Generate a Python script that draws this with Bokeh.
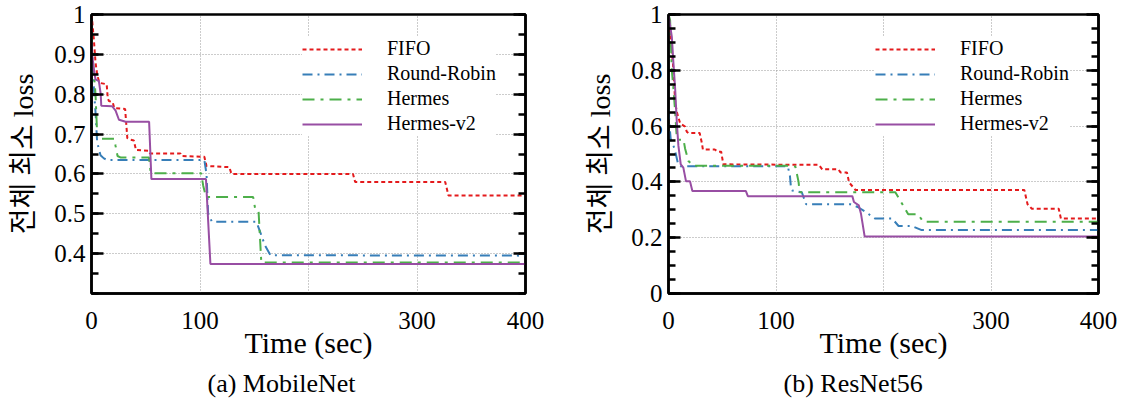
from bokeh.plotting import figure
from bokeh.models import FixedTicker, LinearAxis, Legend, LegendItem, Title, Range1d
from bokeh.layouts import row
from bokeh.embed import file_html
from bokeh.resources import INLINE

# ---------------- data ----------------
series_names = ["FIFO", "Round-Robin", "Hermes", "Hermes-v2"]

x_ticks = [0, 100, 200, 300, 400]
x_tick_labels = ["0", "100", "", "300", "400"]

a_y_ticks = [0.4, 0.5, 0.6, 0.7, 0.8, 0.9, 1.0]
a_y_tick_labels = ["0.4", "0.5", "0.6", "0.7", "0.8", "0.9", "1"]
a_y_minor = [0.3, 0.35, 0.4, 0.45, 0.5, 0.55, 0.6, 0.65, 0.7, 0.75, 0.8, 0.85, 0.9, 0.95, 1.0]

b_y_ticks = [0.0, 0.2, 0.4, 0.6, 0.8, 1.0]
b_y_tick_labels = ["0", "0.2", "0.4", "0.6", "0.8", "1"]
b_y_minor = [0.0, 0.05, 0.1, 0.15, 0.2, 0.25, 0.3, 0.35, 0.4, 0.45, 0.5, 0.55, 0.6, 0.65,
             0.7, 0.75, 0.8, 0.85, 0.9, 0.95, 1.0]

# (a) MobileNet
a_fifo_t = [0, 0.6, 2.2, 3.7, 5.2, 6.8, 8.3, 14, 15, 16, 19.5, 21, 31, 33, 36, 39, 41, 53, 54, 82, 83,
            104, 106, 127, 129, 241, 243, 326, 329, 400]
a_fifo_v = [1.0, 0.985, 0.936, 0.88, 0.85, 0.833, 0.828, 0.825, 0.79, 0.783, 0.78, 0.765, 0.763, 0.69,
            0.686, 0.684, 0.66, 0.658, 0.651, 0.651, 0.645, 0.643, 0.62, 0.617, 0.60, 0.60, 0.58,
            0.58, 0.546, 0.546]
a_rr_t = [0, 0.6, 2.5, 3.7, 5.2, 8.3, 11.4, 14.5, 104, 106, 107.5, 111, 152, 156, 160, 165, 400]
a_rr_v = [0.93, 0.90, 0.80, 0.755, 0.68, 0.647, 0.639, 0.635, 0.635, 0.60, 0.50, 0.48, 0.48, 0.45,
          0.42, 0.396, 0.395]
a_her_t = [0, 0.6, 3.7, 5.2, 6.8, 21, 22.2, 24, 27, 53, 54.6, 101, 103, 105.6, 149, 151, 154, 156.5, 400]
a_her_v = [0.95, 0.91, 0.80, 0.70, 0.688, 0.688, 0.67, 0.645, 0.641, 0.641, 0.602, 0.602, 0.57,
           0.542, 0.542, 0.51, 0.505, 0.378, 0.378]
a_v2_t = [0, 0.6, 2.2, 3.7, 6.8, 8.5, 9.0, 19, 22.2, 25.3, 31.5, 53.1, 55.2, 105.5, 109.6, 400]
a_v2_v = [0.93, 0.90, 0.862, 0.837, 0.833, 0.80, 0.771, 0.77, 0.759, 0.736, 0.731, 0.731, 0.587,
          0.587, 0.374, 0.374]

# (b) ResNet56
b_fifo_t = [0, 0.9, 3.1, 4.6, 6.2, 7.7, 10.8, 15.4, 17, 18.5, 29, 31, 32, 43, 46, 49, 51, 140, 143,
            158, 160, 166, 168, 174, 331, 334, 338, 363, 365, 400]
b_fifo_v = [1.0, 0.968, 0.874, 0.80, 0.686, 0.651, 0.61, 0.598, 0.58, 0.575, 0.575, 0.54, 0.516,
            0.516, 0.508, 0.508, 0.463, 0.461, 0.445, 0.445, 0.434, 0.434, 0.398, 0.371, 0.371,
            0.32, 0.304, 0.304, 0.269, 0.269]
b_rr_t = [0, 1, 2, 4.6, 6.2, 9, 11, 111, 113, 114, 115, 124, 128, 169, 176, 183, 192, 208, 214,
          226, 235, 400]
b_rr_v = [0.66, 0.60, 0.555, 0.53, 0.51, 0.463, 0.456, 0.456, 0.42, 0.375, 0.369, 0.363, 0.32,
          0.32, 0.31, 0.293, 0.269, 0.269, 0.242, 0.242, 0.228, 0.228]
b_her_t = [0, 1.5, 3.1, 4.6, 6.2, 7.7, 9, 14, 15.4, 18.5, 23, 115, 118, 121, 122, 211, 216, 220,
           223, 232, 237, 400]
b_her_v = [1.0, 0.98, 0.80, 0.733, 0.651, 0.557, 0.551, 0.551, 0.52, 0.475, 0.458, 0.458, 0.455,
           0.40, 0.363, 0.363, 0.33, 0.304, 0.284, 0.284, 0.257, 0.257]
b_v2_t = [0, 3.1, 4.6, 6.2, 7.7, 9.2, 11.4, 13.8, 16.3, 20, 22.2, 72, 73.8, 171, 172.5, 177, 179,
          182.5, 400]
b_v2_v = [1.0, 0.92, 0.825, 0.733, 0.616, 0.53, 0.463, 0.451, 0.402, 0.402, 0.367, 0.367, 0.349,
          0.349, 0.328, 0.316, 0.287, 0.204, 0.204]

# ---------------- style ----------------
COLORS = ["#e41a1c", "#377eb8", "#4daf4a", "#984ea3"]
DASHES = ["4 3", "10 5 2 5", "12 6 3 6", "solid"]
SERIF = "'Liberation Serif', serif"
YLABEL_FONT = "'Liberation Serif', 'Noto Sans CJK KR', serif"


def make_panel(series, y_range, y_ticks, y_labels, y_minor, caption, width, min_left,
               min_right, legend_x, caption_offset):
    p = figure(width=width, height=402, output_backend="svg", toolbar_location=None,
               x_range=Range1d(0, 400), y_range=Range1d(*y_range),
               min_border_left=min_left, min_border_right=min_right,
               min_border_top=14, min_border_bottom=108)
    p.background_fill_color = "white"
    p.border_fill_color = "white"
    p.outline_line_color = "black"
    p.outline_line_width = 2.5
    p.outline_line_alpha = 1.0

    items = []
    for name, (t, v), col, dash in zip(series_names, series, COLORS, DASHES):
        r = p.line(t, v, line_color=col, line_width=2, line_dash=dash)
        items.append(LegendItem(label=name, renderers=[r]))

    # x axis
    xa = p.xaxis[0]
    xa.ticker = FixedTicker(ticks=x_ticks)
    xa.major_label_overrides = {t: l for t, l in zip(x_ticks, x_tick_labels)}
    xa.major_tick_in = 0
    xa.major_tick_out = 0
    xa.minor_tick_in = 0
    xa.minor_tick_out = 0
    xa.axis_line_width = 2.5
    xa.major_label_text_font = SERIF
    xa.major_label_text_font_size = "25px"
    xa.major_label_text_color = "black"
    xa.major_label_standoff = 18
    xa.axis_label = "Time (sec)"
    xa.axis_label_text_font = SERIF
    xa.axis_label_text_font_size = "30px"
    xa.axis_label_text_font_style = "normal"
    xa.axis_label_text_color = "black"
    xa.axis_label_standoff = -6

    # y axis (left)
    ya = p.yaxis[0]
    ya.ticker = FixedTicker(ticks=y_ticks, minor_ticks=y_minor)
    ya.major_label_overrides = {t: l for t, l in zip(y_ticks, y_labels)}
    ya.major_tick_in = 12
    ya.major_tick_out = 0
    ya.minor_tick_in = 7
    ya.minor_tick_out = 0
    ya.major_tick_line_width = 2.5
    ya.minor_tick_line_width = 2.5
    ya.axis_line_width = 2.5
    ya.major_label_text_font = SERIF
    ya.major_label_text_font_size = "25px"
    ya.major_label_text_color = "black"
    ya.major_label_standoff = 6
    ya.axis_label = "전체 최소 loss"
    ya.axis_label_text_font = YLABEL_FONT
    ya.axis_label_text_font_size = "28px"
    ya.axis_label_text_font_style = "normal"
    ya.axis_label_text_color = "black"
    ya.axis_label_standoff = 12

    # mirrored ticks on the right (no labels)
    ra = LinearAxis(ticker=FixedTicker(ticks=y_ticks, minor_ticks=y_minor))
    ra.major_label_overrides = {t: "" for t in y_ticks}
    ra.major_label_standoff = 0
    ra.major_tick_in = 12
    ra.major_tick_out = 0
    ra.minor_tick_in = 7
    ra.minor_tick_out = 0
    ra.major_tick_line_width = 2.5
    ra.minor_tick_line_width = 2.5
    ra.axis_line_width = 2.5
    p.add_layout(ra, "right")

    # grid
    p.xgrid.ticker = FixedTicker(ticks=x_ticks)
    p.ygrid.ticker = FixedTicker(ticks=y_ticks)
    for g in (p.xgrid, p.ygrid):
        g.grid_line_color = "#999999"
        g.grid_line_dash = "1 2"
        g.grid_line_width = 1

    legend = Legend(items=items, location=(legend_x, 158))
    legend.glyph_width = 60
    legend.glyph_height = 20
    legend.label_height = 20
    legend.label_standoff = 25
    legend.spacing = 2
    legend.padding = 10
    legend.margin = 0
    legend.border_line_color = None
    legend.background_fill_color = "white"
    legend.background_fill_alpha = 1.0
    legend.label_text_font = SERIF
    legend.label_text_font_size = "20px"
    legend.label_text_color = "black"
    p.add_layout(legend)

    cap = Title(text=caption, align="left", text_font=SERIF, text_font_size="26px",
                text_font_style="normal", text_color="black", offset=caption_offset)
    p.add_layout(cap, "below")
    return p


pa = make_panel([(a_fifo_t, a_fifo_v), (a_rr_t, a_rr_v), (a_her_t, a_her_v), (a_v2_t, a_v2_v)],
                (0.3, 1.0), a_y_ticks, a_y_tick_labels, a_y_minor, "(a) MobileNet",
                width=560, min_left=91, min_right=35, legend_x=211, caption_offset=116)
pb = make_panel([(b_fifo_t, b_fifo_v), (b_rr_t, b_rr_v), (b_her_t, b_her_v), (b_v2_t, b_v2_v)],
                (0.0, 1.0), b_y_ticks, b_y_tick_labels, b_y_minor, "(b) ResNet56",
                width=559, min_left=108, min_right=21, legend_x=207, caption_offset=115)

layout = row(pa, pb)
open("out.html", "w").write(file_html(layout, INLINE))
